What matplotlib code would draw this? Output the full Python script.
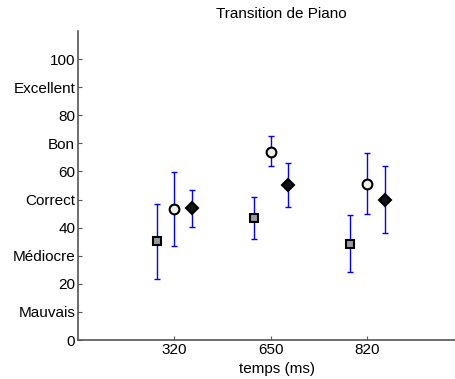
import matplotlib.pyplot as plt
import numpy as np

plt.rcParams['font.family'] = ['Liberation Sans', 'DejaVu Sans']

# Daten
temps = ['320', '650', '820']
y_ticks = [0, 10, 20, 30, 40, 50, 60, 70, 80, 90, 100]
y_labels = ['0', 'Mauvais', '20', 'Médiocre', '40', 'Correct', '60', 'Bon', '80', 'Excellent', '100']

carre_moy = [35.1, 43.3, 34.2]
carre_haut = [48.5, 50.9, 44.4]
carre_bas = [21.8, 35.9, 24.1]

cercle_moy = [46.6, 67.1, 55.7]
cercle_haut = [59.8, 72.6, 66.6]
cercle_bas = [33.4, 61.8, 44.9]

losange_moy = [47.1, 55.2, 49.9]
losange_haut = [53.5, 63.0, 62.0]
losange_bas = [40.2, 47.3, 38.0]

fig = plt.figure(figsize=(4.56, 3.79), dpi=100)
ax = fig.add_axes([78 / 456, 39 / 379, 386 / 456, 309 / 379])

x = np.arange(1, len(temps) + 1)
decalage = 0.18

series = [
    (x - decalage, carre_moy, carre_bas, carre_haut, 's', '#999999', 5.5),
    (x, cercle_moy, cercle_bas, cercle_haut, 'o', '#eeeeee', 7),
    (x + decalage, losange_moy, losange_bas, losange_haut, 'D', '#111111', 6),
]

for xs, moy, bas, haut, marker, couleur, ms in series:
    moy = np.array(moy)
    err = [moy - np.array(bas), np.array(haut) - moy]
    ax.errorbar(xs, moy, yerr=err, fmt='none', ecolor='blue', elinewidth=1,
                capsize=2.5, capthick=1, zorder=2)
    ax.plot(xs, moy, linestyle='none', marker=marker, markersize=ms,
            markerfacecolor=couleur, markeredgecolor='black',
            markeredgewidth=1.5, zorder=3)

ax.set_xlim(0, 4)
ax.set_ylim(0, 110)
ax.set_xticks(x)
ax.set_xticklabels(temps, fontsize=11)
ax.set_yticks(y_ticks)
ax.set_yticklabels(y_labels, fontsize=11)
ax.tick_params(direction='in', length=3, color='#555555', pad=2)

for s in ['top', 'right']:
    ax.spines[s].set_visible(False)
for s in ['left', 'bottom']:
    ax.spines[s].set_color('#555555')
    ax.spines[s].set_linewidth(1.2)

ax.set_title('Transition de Piano', fontsize=11, x=0.526, pad=9)
ax.set_xlabel('temps (ms)', fontsize=11, labelpad=0)
ax.xaxis.set_label_coords(0.515, -0.07)

fig.savefig('out.png', dpi=100)
